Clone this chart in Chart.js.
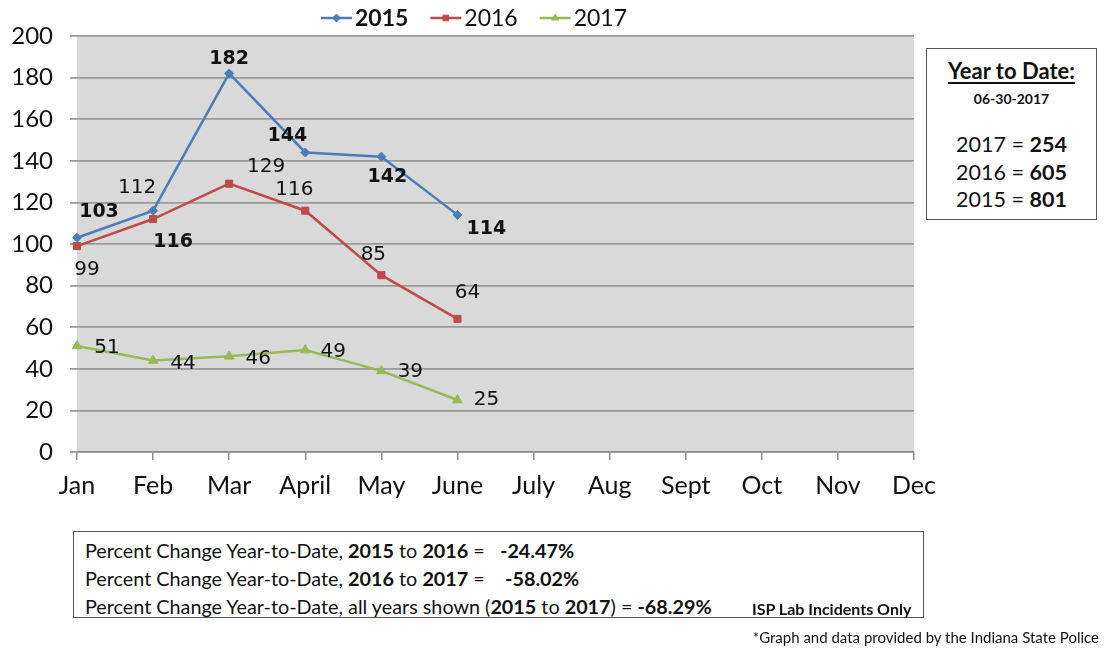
<!DOCTYPE html>
<html>
<head>
<meta charset="utf-8">
<script src="https://cdn.jsdelivr.net/npm/chart.js@4"></script>
<style>
  html, body { margin: 0; padding: 0; background: #fff; }
  #wrap { position: relative; width: 1107px; height: 650px; overflow: hidden; }
  #c { position: absolute; left: 0; top: 0; }
  .box { position: absolute; border: 1.5px solid #555; background: #fff; font-family: Lato, "Open Sans", sans-serif; color: #111; box-sizing: border-box; }
  #ytd { left: 926px; top: 48px; width: 171px; height: 172px; text-align: center; }
  #ytd .h { position: absolute; left: 0; right: 0; top: 8px; font-size: 22px; font-weight: bold; text-decoration: underline; text-underline-offset: 3px; }
  #ytd .d { position: absolute; left: 0; right: 0; top: 41px; font-size: 14px; font-weight: bold; }
  #ytd .r { position: absolute; left: 0; right: 0; font-size: 21.5px; }
  #pct { left: 73px; top: 531px; width: 851px; height: 87px; }
  #pct .l { position: absolute; left: 11px; font-size: 19.8px; line-height: 20px; white-space: pre; }
  #pct .isp { position: absolute; left: 678px; top: 69px; font-size: 16px; line-height: 16px; font-weight: bold; }
  #foot { position: absolute; right: 8px; top: 628px; font-family: Lato, "Open Sans", sans-serif; font-size: 15px; color: #111; }
</style>
</head>
<body>
<div id="wrap">
  <canvas id="c" width="1107" height="650"></canvas>
  <div class="box" id="ytd">
    <div class="h">Year to Date:</div>
    <div class="d">06-30-2017</div>
    <div class="r" style="top:82px">2017 = <b>254</b></div>
    <div class="r" style="top:110px">2016 = <b>605</b></div>
    <div class="r" style="top:137px">2015 = <b>801</b></div>
  </div>
  <div class="box" id="pct">
    <div class="l" style="top:8px">Percent Change Year-to-Date, <b>2015</b> to <b>2016</b> =   <b>-24.47%</b></div>
    <div class="l" style="top:36px">Percent Change Year-to-Date, <b>2016</b> to <b>2017</b> =    <b>-58.02%</b></div>
    <div class="l" style="top:64px">Percent Change Year-to-Date, all years shown (<b>2015</b> to <b>2017</b>) = <b>-68.29%</b></div>
    <div class="isp">ISP Lab Incidents Only</div>
  </div>
  <div id="foot">*Graph and data provided by the Indiana State Police</div>
</div>
<script>
// ---- data ----
const months = ["Jan","Feb","Mar","April","May","June","July","Aug","Sept","Oct","Nov","Dec"];
const values2015 = [103, 116, 182, 144, 142, 114, null, null, null, null, null, null];
const values2016 = [99, 112, 129, 116, 85, 64, null, null, null, null, null, null];
const values2017 = [51, 44, 46, 49, 39, 25, null, null, null, null, null, null];
// data labels as printed on the original chart
const labels2015 = ["103", "116", "182", "144", "142", "114"];
const labels2016 = ["99", "112", "129", "116", "85", "64"];
const labels2017 = ["51", "44", "46", "49", "39", "25"];
const yTicks = [0, 20, 40, 60, 80, 100, 120, 140, 160, 180, 200];

// ---- styling (label offsets relative to points) ----
const off2015 = [[22,-26],[20,31],[0,-14],[-18,-16],[6,20],[29,14]];
const off2016 = [[10,24],[-16,-31],[37,-17],[-11,-21],[-8,-20],[10,-26]];
const off2017 = [[30,2],[30,3],[29,2],[28,2],[29,1],[29,0]];

const BLUE = "#4A7EBB", RED = "#BE4B48", GREEN = "#98B954";
const TICK_FONT = "Lato, 'Open Sans', sans-serif";

const bgPlugin = {
  id: "bg",
  beforeDraw(chart) {
    const {ctx, chartArea: a} = chart;
    ctx.save();
    ctx.fillStyle = "#d9d9d9";
    ctx.fillRect(a.left, a.top, a.right - a.left, a.bottom - a.top);
    ctx.restore();
  }
};

const labelPlugin = {
  id: "dlabels",
  afterDatasetsDraw(chart) {
    const ctx = chart.ctx;
    const sets = [[labels2015, off2015, true], [labels2016, off2016, false], [labels2017, off2017, false]];
    ctx.save();
    ctx.fillStyle = "#111";
    ctx.textAlign = "center";
    ctx.textBaseline = "middle";
    sets.forEach((s, di) => {
      const meta = chart.getDatasetMeta(di);
      ctx.font = (s[2] ? "bold 19px" : "20px") + " 'DejaVu Sans', Verdana, sans-serif";
      s[0].forEach((txt, i) => {
        const p = meta.data[i];
        ctx.fillText(txt, p.x + s[1][i][0], p.y + s[1][i][1]);
      });
    });
    ctx.restore();
  }
};

const legendPlugin = {
  id: "legendCustom",
  afterDraw(chart) {
    const ctx = chart.ctx;
    const items = [["2015", BLUE, "rectRot", true], ["2016", RED, "rect", false], ["2017", GREEN, "triangle", false]];
    const lineLen = 31, gap1 = 3, gap2 = 22, cy = 18;
    ctx.save();
    let widths = items.map(it => { ctx.font = (it[3] ? "bold " : "") + "23px " + TICK_FONT; return ctx.measureText(it[0]).width; });
    let total = widths.reduce((s, w) => s + w + lineLen + gap1, 0) + gap2 * (items.length - 1);
    let x = 474 - total / 2;
    items.forEach((it, i) => {
      ctx.strokeStyle = it[1];
      ctx.lineWidth = 2.5;
      ctx.beginPath(); ctx.moveTo(x, cy); ctx.lineTo(x + lineLen, cy); ctx.stroke();
      ctx.fillStyle = it[1];
      ctx.lineWidth = 1;
      Chart.helpers.drawPoint(ctx, {pointStyle: it[2], radius: 4, borderWidth: 1, rotation: 0}, x + lineLen / 2, cy);
      ctx.fillStyle = "#111";
      ctx.font = (it[3] ? "bold " : "") + "23px " + TICK_FONT;
      ctx.textAlign = "left"; ctx.textBaseline = "middle";
      ctx.fillText(it[0], x + lineLen + gap1, cy + 1);
      x += lineLen + gap1 + widths[i] + gap2;
    });
    ctx.restore();
  }
};

function ds(label, data, color, style, radius) {
  return {
    label, data,
    borderColor: color, backgroundColor: color,
    borderWidth: 2.5,
    pointStyle: style, pointRadius: radius, pointHoverRadius: radius,
    pointBackgroundColor: color, pointBorderColor: color, pointBorderWidth: 1,
    tension: 0, spanGaps: false
  };
}

new Chart(document.getElementById("c"), {
  type: "line",
  data: {
    labels: months,
    datasets: [
      ds("2015", values2015, BLUE, "rectRot", 4.5),
      ds("2016", values2016, RED, "rect", 5),
      ds("2017", values2017, GREEN, "triangle", 5.5)
    ]
  },
  options: {
    responsive: false,
    animation: false,
    events: [],
    layout: { padding: { left: 0, top: 36, right: 193, bottom: 0 } },
    plugins: { legend: { display: false }, tooltip: { enabled: false } },
    scales: {
      x: {
        type: "category",
        offset: false,
        afterFit(s) { s.height = 198; },
        grid: { display: true, drawOnChartArea: false, drawTicks: true, tickLength: 8, color: "#8c8c8c", lineWidth: 1.5 },
        border: { display: true, color: "#8c8c8c", width: 1.5 },
        ticks: { color: "#111", font: { family: TICK_FONT, size: 25 }, padding: 11, maxRotation: 0, autoSkip: false }
      },
      y: {
        min: 0, max: 200,
        afterFit(s) { s.width = 77; },
        afterBuildTicks(s) { s.ticks = yTicks.map(v => ({ value: v })); },
        grid: { color: "#9a9a9a", lineWidth: 1.8, tickLength: 7, drawTicks: true },
        border: { display: false },
        ticks: { color: "#111", font: { family: TICK_FONT, size: 24 }, padding: 17 }
      }
    }
  },
  plugins: [bgPlugin, labelPlugin, legendPlugin]
});
</script>
</body>
</html>
